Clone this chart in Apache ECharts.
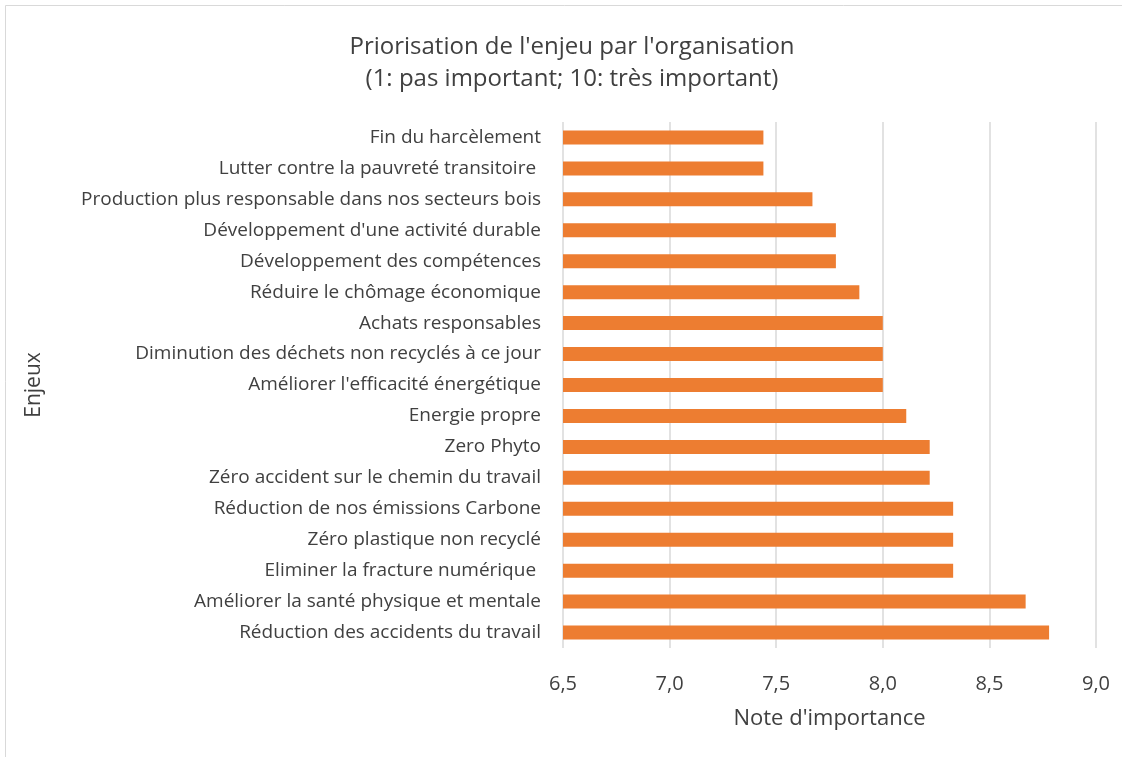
<!DOCTYPE html>
<html><head><meta charset="utf-8">
<script src="https://cdn.jsdelivr.net/npm/echarts@6/dist/echarts.min.js"></script>
<style>html,body{margin:0;padding:0;background:#fff}#c{width:1122px;height:757px}</style>
</head><body><div id="c"></div>
<script>
const categories = [
  "Fin du harcèlement",
  "Lutter contre la pauvreté transitoire ",
  "Production plus responsable dans nos secteurs bois",
  "Développement d'une activité durable",
  "Développement des compétences",
  "Réduire le chômage économique",
  "Achats responsables",
  "Diminution des déchets non recyclés à ce jour",
  "Améliorer l'efficacité énergétique",
  "Energie propre",
  "Zero Phyto",
  "Zéro accident sur le chemin du travail",
  "Réduction de nos émissions Carbone",
  "Zéro plastique non recyclé",
  "Eliminer la fracture numérique ",
  "Améliorer la santé physique et mentale",
  "Réduction des accidents du travail"
];
const values = [7.44, 7.44, 7.67, 7.78, 7.78, 7.89, 8.0, 8.0, 8.0, 8.11, 8.22, 8.22, 8.33, 8.33, 8.33, 8.67, 8.78];
const xTicks = [6.5, 7.0, 7.5, 8.0, 8.5, 9.0];

const font = "'Open Sans', 'Liberation Sans', sans-serif";
const chart = echarts.init(document.getElementById('c'));
chart.setOption({
  animation: false,
  backgroundColor: '#fff',
  graphic: [{
    type: 'rect', shape: {x: 5.5, y: 5.5, width: 1130, height: 760},
    style: {fill: 'none', stroke: '#D9D9D9', lineWidth: 1}, silent: true
  }],
  title: {
    text: "Priorisation de l'enjeu par l'organisation\n(1: pas important; 10: très important)",
    left: 567, top: 26, textAlign: 'center',
    textStyle: {fontFamily: font, fontSize: 24, fontWeight: 'normal', color: '#404040', lineHeight: 32}
  },
  grid: {left: 563, right: 26, top: 122, bottom: 109, containLabel: false},
  xAxis: {
    type: 'value', min: xTicks[0], max: xTicks[xTicks.length - 1], interval: 0.5,
    name: "Note d'importance", nameLocation: 'middle', nameGap: 60,
    nameTextStyle: {fontFamily: font, fontSize: 22, color: '#404040'},
    axisLine: {show: false}, axisTick: {show: false},
    axisLabel: {fontFamily: font, fontSize: 20, color: '#404040', margin: 26,
      formatter: v => v.toFixed(1).replace('.', ',')},
    splitLine: {show: true, lineStyle: {color: '#D9D9D9', width: 1.5}}
  },
  yAxis: {
    type: 'category', data: categories, inverse: true,
    name: 'Enjeux', nameLocation: 'middle', nameGap: 518, nameRotate: 90,
    nameTextStyle: {fontFamily: font, fontSize: 21, color: '#404040'},
    axisLine: {show: false}, axisTick: {show: false},
    axisLabel: {fontFamily: font, fontSize: 19, color: '#404040', margin: 22}
  },
  series: [{
    type: 'bar', data: values, barWidth: 14,
    itemStyle: {color: '#ED7D31'}
  }]
});
</script></body></html>
